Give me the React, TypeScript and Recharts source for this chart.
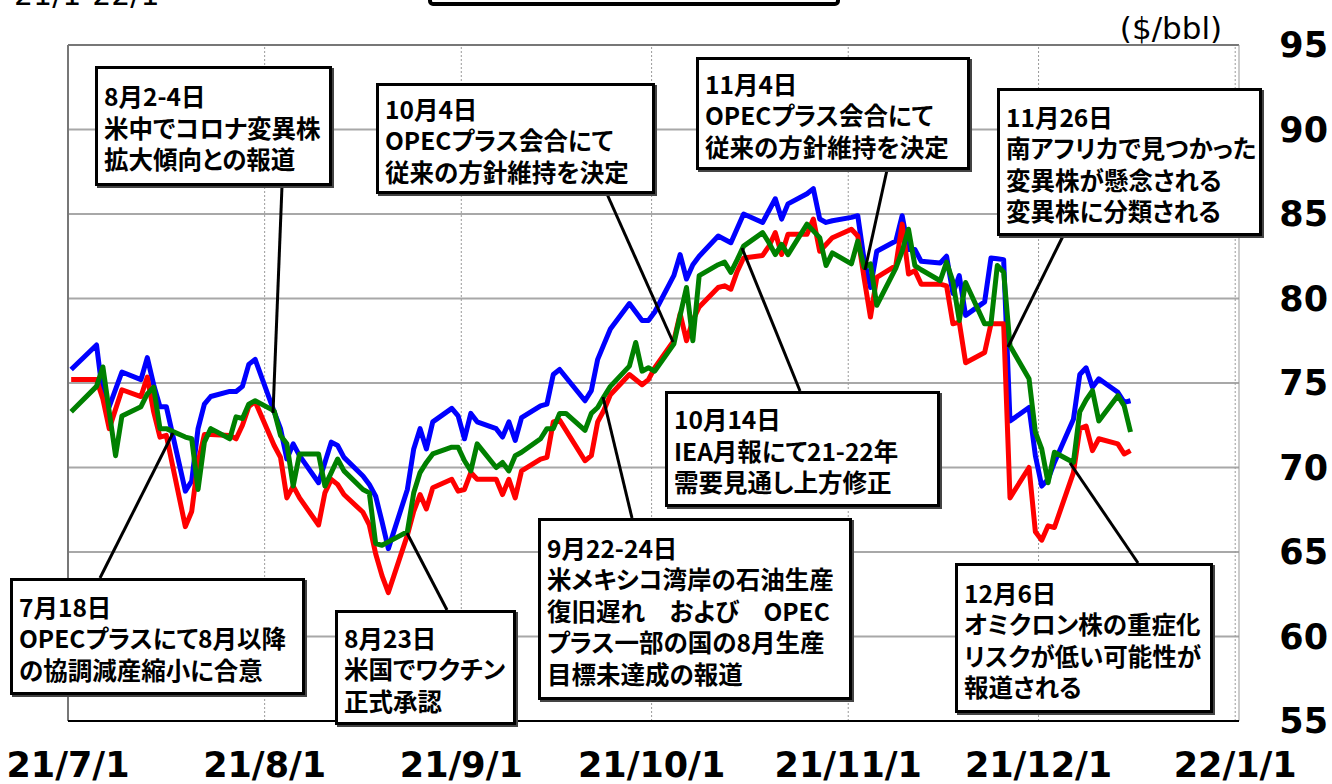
import React from 'react';
import { LineChart, Line, XAxis, YAxis, CartesianGrid, ReferenceLine } from 'recharts';

// day offsets from 2021/7/1 for the month ticks
const monthStarts = [0, 31, 62, 92, 123, 153, 184];
const monthLabels = ['21/7/1', '21/8/1', '21/9/1', '21/10/1', '21/11/1', '21/12/1', '22/1/1'];
const yTicks = [55, 60, 65, 70, 75, 80, 85, 90, 95];

// blue
const blueDays = [0, 4, 5, 6, 8, 11, 12, 13, 14, 15, 18, 19, 20, 21, 22, 25, 26, 27, 28, 29,
  32, 33, 34, 35, 36, 39, 40, 41, 42, 43, 46, 47, 48, 49, 50, 53, 54, 55, 56, 57, 60, 61,
  62, 63, 64, 67, 68, 69, 70, 71, 74, 75, 76, 77, 81, 82, 83, 84, 85, 88, 90, 91,
  92, 95, 96, 97, 98, 99, 102, 104, 106, 109, 111, 112, 113, 116, 117, 118, 119, 120,
  123, 124, 125, 126, 127, 130, 131, 132, 133, 134, 137, 138, 139, 140, 141, 144, 145, 146, 147,
  148, 151, 152, 153, 154, 155, 158, 159, 160, 161, 162, 165, 166, 167];
const blueVals = [75.8, 77.25, 74.25, 73.6, 75.65, 75.2, 76.5, 74.9, 73.6, 73.6, 68.6, 69.2, 72.3, 73.75, 74.2, 74.5, 74.5, 74.8, 76.1, 76.4,
  73.3, 72.3, 70.5, 71.4, 70.7, 69.1, 70.3, 71.5, 71.3, 70.6, 69.5, 69.0, 68.3, 66.8, 65.2, 68.7, 71.1, 72.3, 71.1, 72.7, 73.5, 73.05,
  71.7, 73.2, 72.7, 72.3, 71.8, 72.7, 71.6, 72.95, 73.65, 73.75, 75.5, 75.8, 73.95, 74.55, 76.4, 77.3, 78.2, 79.7, 78.7, 78.7,
  79.2, 81.35, 82.6, 81.15, 82.0, 82.5, 83.7, 83.3, 85.0, 84.5, 85.9, 84.7, 85.6, 86.2, 86.5, 84.7, 84.5, 84.6,
  84.8, 84.9, 82.3, 80.65, 82.8, 83.4, 84.9, 82.9, 82.9, 82.2, 82.1, 82.5, 80.3, 81.35, 79.0, 79.8, 82.4, 82.35, 82.3,
  72.75, 73.55, 70.7, 68.9, 69.3, 70.3, 72.85, 75.5, 75.9, 74.75, 75.25, 74.45, 73.85, 73.95];

// red
const redDays = [0, 4, 5, 6, 8, 11, 12, 13, 14, 15, 18, 19, 20, 21, 22, 25, 26, 27, 28, 29,
  32, 33, 34, 35, 36, 39, 40, 41, 42, 43, 46, 47, 48, 49, 50, 53, 54, 55, 56, 57, 60, 61,
  62, 63, 64, 67, 68, 69, 70, 71, 74, 75, 76, 77, 81, 82, 83, 84, 85, 88, 90, 91,
  92, 95, 96, 97, 98, 99, 102, 103, 104, 105, 106, 109, 110, 111, 112, 113, 116, 117, 118, 119, 120,
  123, 124, 125, 126, 127, 130, 131, 132, 133, 134, 137, 138, 139, 140, 141, 144, 145, 146, 147,
  148, 151, 152, 153, 154, 155, 158, 159, 160, 161, 162, 165, 166, 167];
const redVals = [75.2, 75.2, 74.05, 72.3, 74.6, 74.2, 75.35, 73.3, 71.8, 71.9, 66.5, 67.4, 70.3, 71.95, 71.95, 71.9, 71.7, 72.5, 73.6, 73.9,
  71.3, 70.6, 68.2, 68.9, 68.2, 66.6, 68.5, 69.3, 69.0, 68.4, 67.35, 66.6, 64.9, 63.6, 62.6, 66.0, 67.4, 68.4, 67.55, 68.8, 69.3, 68.6,
  68.7, 69.7, 69.3, 69.3, 68.4, 69.3, 68.2, 69.8, 70.5, 70.6, 72.7, 72.8, 70.4, 70.7, 72.7, 73.4, 74.3, 75.5, 74.9, 75.2,
  75.9, 77.5, 79.1, 77.5, 78.7, 79.5, 80.65, 80.75, 80.55, 81.6, 82.4, 82.55, 83.1, 83.9, 82.6, 83.8, 83.8, 84.7, 82.8, 83.2, 83.6,
  84.1, 83.7, 81.2, 78.9, 81.25, 81.95, 84.4, 81.45, 81.65, 80.85, 80.85, 80.75, 78.5, 78.6, 76.2, 76.8, 78.5, 78.5, 78.5,
  68.2, 70.0, 66.2, 65.7, 66.55, 66.45, 69.7, 72.3, 72.45, 71.0, 71.7, 71.4, 70.8, 71.0];

// green
const greenDays = [0, 4, 5, 6, 7, 8, 11, 12, 13, 14, 15, 18, 19, 20, 21, 22, 25, 26, 27, 28, 29,
  32, 33, 34, 35, 36, 39, 40, 41, 42, 43, 46, 47, 48, 49, 50, 53, 54, 55, 56, 57, 60, 61,
  62, 63, 64, 67, 68, 69, 70, 71, 74, 75, 76, 77, 78, 81, 82, 83, 84, 85, 88, 89, 90, 91,
  92, 95, 96, 97, 98, 99, 102, 103, 104, 105, 106, 109, 110, 111, 112, 113, 116, 117, 118, 119, 120,
  123, 124, 125, 126, 127, 130, 131, 132, 133, 134, 137, 138, 139, 140, 141, 144, 145, 146, 147,
  148, 151, 152, 153, 154, 155, 158, 159, 160, 161, 162, 165, 166, 167];
const greenVals = [73.3, 74.8, 75.95, 73.3, 70.7, 73.05, 73.6, 74.35, 74.75, 72.3, 72.3, 71.8, 71.7, 68.7, 71.5, 72.3, 71.7, 73.0, 72.9, 73.75, 73.95,
  73.35, 71.9, 71.4, 68.9, 70.8, 70.8, 68.9, 69.7, 70.5, 69.8, 68.7, 68.5, 65.5, 65.4, 65.6, 66.2, 68.5, 69.7, 70.3, 70.8, 71.2, 71.2,
  70.4, 69.8, 71.4, 70.0, 70.3, 69.8, 70.7, 70.9, 71.7, 72.3, 72.3, 73.2, 73.2, 72.2, 73.2, 73.55, 74.2, 74.8, 76.0, 77.4, 75.7, 75.9,
  75.7, 77.3, 79.0, 80.65, 77.5, 81.35, 82.0, 82.15, 81.55, 82.3, 83.1, 83.9, 83.3, 82.6, 83.2, 82.6, 84.4, 84.0, 83.6, 81.95, 82.7,
  82.05, 83.4, 81.85, 82.05, 79.6, 81.8, 82.8, 84.1, 81.95, 81.7, 81.05, 82.15, 81.0, 78.7, 80.95, 78.5, 78.5, 81.95, 81.55,
  77.2, 75.25, 72.1, 71.1, 69.1, 70.9, 70.3, 73.3, 74.0, 74.55, 72.75, 74.25, 73.65, 72.1];

const notes = [
  { lines: ['8月2-4日', '米中でコロナ変異株', '拡大傾向との報道'], box: [95, 66, 237, 120], lead: [282, 186, 273, 413] },
  { lines: ['10月4日', 'OPECプラス会合にて', '従来の方針維持を決定'], box: [376, 83, 279, 111], lead: [607, 194, 673, 342] },
  { lines: ['11月4日', 'OPECプラス会合にて', '従来の方針維持を決定'], box: [696, 57, 274, 113], lead: [887, 170, 865, 270] },
  { lines: ['11月26日', '南アフリカで見つかった', '変異株が懸念される', '変異株に分類される'], box: [997, 88, 265, 148], lead: [1063, 236, 1008, 347] },
  { lines: ['10月14日', 'IEA月報にて21-22年', '需要見通し上方修正'], box: [665, 391, 275, 116], lead: [800, 391, 742, 248] },
  { lines: ['9月22-24日', '米メキシコ湾岸の石油生産', '復旧遅れ　および　OPEC', 'プラス一部の国の8月生産', '目標未達成の報道'], box: [538, 518, 314, 182], lead: [632, 518, 603, 397] },
  { lines: ['12月6日', 'オミクロン株の重症化', 'リスクが低い可能性が', '報道される'], box: [955, 563, 258, 150], lead: [1138, 563, 1070, 463] },
  { lines: ['7月18日', 'OPECプラスにて8月以降', 'の協調減産縮小に合意'], box: [10, 578, 295, 117], lead: [100, 578, 173, 433] },
  { lines: ['8月23日', '米国でワクチン', '正式承認'], box: [335, 610, 181, 115], lead: [447, 610, 407, 533] },
];

const toSeries = (days: number[], vals: number[]) => days.map((d, i) => ({ d, v: vals[i] }));
const blue = toSeries(blueDays, blueVals);
const red = toSeries(redDays, redVals);
const green = toSeries(greenDays, greenVals);

const numFont = '"DejaVu Sans", Verdana, sans-serif';

const XTick = (props: any) => {
  const { x, payload } = props;
  const i = monthStarts.indexOf(Math.round(payload.value + 0.5));
  return (
    <text x={x} y={777} textAnchor="middle" fontFamily={numFont} fontWeight="bold" fontSize={35} fill="#000">
      {monthLabels[i]}
    </text>
  );
};

const YTick = (props: any) => {
  const { y, payload } = props;
  return (
    <text x={1328} y={y + 12} textAnchor="end" fontFamily={numFont} fontWeight="bold" fontSize={35} fill="#000">
      {payload.value}
    </text>
  );
};

export default function App() {
  return (
    <div style={{ position: 'absolute', left: 0, top: 0, width: 1332, height: 784, overflow: 'hidden', background: '#fff' }}>
      <LineChart width={1332} height={784} margin={{ top: 45, right: 0, bottom: 0, left: 68 }}>
        <CartesianGrid horizontal vertical={false} stroke="#a8a8a8" strokeWidth={2} />
        {monthStarts.slice(1).map(m => (
          <ReferenceLine key={m} x={m - 0.5} stroke="#9a9a9a" strokeDasharray="2 2" strokeWidth={1} />
        ))}
        <ReferenceLine y={95} stroke="#777" strokeWidth={2} />
        <ReferenceLine x={-0.5} stroke="#777" strokeWidth={2} />
        <ReferenceLine x={184.1} stroke="#999" strokeWidth={1} />
        <XAxis
          type="number"
          dataKey="d"
          domain={[-0.5, 184.1]}
          ticks={monthStarts.map(m => m - 0.5)}
          interval={0}
          height={63}
          tickLine={false}
          axisLine={{ stroke: '#000', strokeWidth: 2 }}
          tick={<XTick />}
          allowDataOverflow
        />
        <YAxis
          orientation="right"
          type="number"
          domain={[55, 95]}
          ticks={yTicks}
          interval={0}
          width={93}
          axisLine={false}
          tickLine={false}
          tick={<YTick />}
          allowDataOverflow
        />
        <Line data={blue} dataKey="v" name="blue" type="linear" stroke="#0000ff" strokeWidth={5} strokeLinejoin="round" dot={false} isAnimationActive={false} />
        <Line data={red} dataKey="v" name="red" type="linear" stroke="#ff0000" strokeWidth={5} strokeLinejoin="round" dot={false} isAnimationActive={false} />
        <Line data={green} dataKey="v" name="green" type="linear" stroke="#008000" strokeWidth={5} strokeLinejoin="round" dot={false} isAnimationActive={false} />
      </LineChart>

      <svg width={1332} height={784} style={{ position: 'absolute', left: 0, top: 0, pointerEvents: 'none' }}>
        {notes.map((n, i) => (
          <line key={i} x1={n.lead[0]} y1={n.lead[1]} x2={n.lead[2]} y2={n.lead[3]} stroke="#000" strokeWidth={3} />
        ))}
        <text x={14} y={5} fontFamily={numFont} fontSize={30} fill="#000">21/1-22/1</text>
        <rect x={430} y={-30} width={408} height={34} rx={3} fill="#fff" stroke="#000" strokeWidth={4} />
        <text x={1171} y={39} textAnchor="middle" fontFamily={numFont} fontSize={31} fill="#000">($/bbl)</text>
      </svg>

      {notes.map((n, i) => (
        <div
          key={i}
          style={{
            position: 'absolute',
            left: n.box[0],
            top: n.box[1],
            width: n.box[2],
            height: n.box[3],
            boxSizing: 'border-box',
            border: '3px solid #000',
            boxShadow: '2px 2px 0 #444',
            background: '#fff',
            display: 'flex',
            flexDirection: 'column',
            justifyContent: 'center',
            paddingLeft: 6,
            paddingTop: 3,
            fontFamily: '"Noto Sans CJK JP", sans-serif',
            fontWeight: 700,
            fontSize: 24.5,
            lineHeight: '31.5px',
            fontFeatureSettings: '"palt"',
            whiteSpace: 'nowrap',
            color: '#000',
          }}
        >
          {n.lines.map((t, j) => <div key={j}>{t}</div>)}
        </div>
      ))}
    </div>
  );
}
